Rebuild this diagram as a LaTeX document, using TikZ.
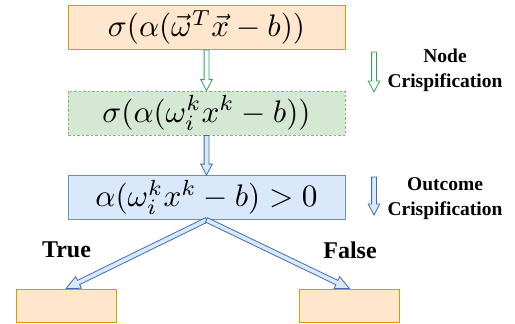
\documentclass[tikz,border=0pt]{standalone}
\usepackage{graphicx}
\usepackage[no-math]{fontspec}
\setmainfont{Liberation Serif}[BoldFont={Liberation Serif Bold}]
\usetikzlibrary{calc}
\definecolor{orfill}{HTML}{FFE6CC}
\definecolor{ordraw}{HTML}{D79B00}
\definecolor{grfill}{HTML}{D5E8D4}
\definecolor{grdraw}{HTML}{82B366}
\definecolor{blfill}{HTML}{DAE8FC}
\definecolor{bldraw}{HTML}{6C8EBF}
\definecolor{arrgreen}{HTML}{2FA35B}
\definecolor{arrblue}{HTML}{3C6EB4}
\newcommand\shw{2.4pt}
\newcommand\hdw{5.8pt}
\newcommand\hdl{11pt}
\newcommand\mathbigx[1]{\scalebox{3.12}{$#1$}}
\begin{document}
\begin{tikzpicture}[x=1pt,y=-1pt,
  box/.style={minimum width=277pt, minimum height=44pt, inner sep=0pt, line width=0.8pt},
  leaf/.style={minimum width=100pt, minimum height=33pt, inner sep=0pt, line width=0.8pt,
    fill=orfill, draw=ordraw},
  lbl/.style={font=\bfseries\fontsize{19.5}{25}\selectfont, align=center, inner sep=0pt},
  biglbl/.style={font=\bfseries\fontsize{24}{28}\selectfont, inner sep=0pt},
  bigtip/.code={\def\hdl{14pt}\def\hdw{6.5pt}},
  flexarrow/.style={line width=0.8pt, line join=miter,
    to path={
      ($(\tikztostart)!\shw!90:(\tikztotarget)$)
      -- ($(\tikztotarget)!\hdl!(\tikztostart)!\shw!-90:(\tikztostart)$)
      -- ($(\tikztotarget)!\hdl!(\tikztostart)!\hdw!-90:(\tikztostart)$)
      -- (\tikztotarget)
      -- ($(\tikztotarget)!\hdl!(\tikztostart)!\hdw!90:(\tikztostart)$)
      -- ($(\tikztotarget)!\hdl!(\tikztostart)!\shw!90:(\tikztostart)$)
      -- ($(\tikztostart)!\shw!-90:(\tikztotarget)$)
      -- cycle}},
  greenarrow/.style={flexarrow, draw=arrgreen, fill=white},
  bluearrow/.style={flexarrow, draw=arrblue, fill=blfill}
]
\useasboundingbox (0,0) rectangle (515,324);

\node[box, fill=orfill, draw=ordraw] (top) at (206.5,27.5)
  {\mathbigx{\sigma(\alpha(\vec{\omega}^T\vec{x}-b))}};
\node[box, fill=grfill, draw=grdraw, dashed, dash pattern=on 2.5pt off 2pt] (mid) at (206.5,113)
  {\mathbigx{\sigma(\alpha(\omega_i^k x^k-b))}};
\node[box, fill=blfill, draw=bldraw] (cmp) at (206.5,197.5)
  {\mathbigx{\alpha(\omega_i^k x^k-b)>0}};
\node[leaf] (tbox) at (66,305.5) {};
\node[leaf] (fbox) at (349.5,305.5) {};

\draw[greenarrow] (top.south) to (mid.north);
\draw[bluearrow] (mid.south) to (cmp.north);
\draw[bluearrow, bigtip] (cmp.south) to (tbox.north);
\draw[bluearrow, bigtip] (cmp.south) to (fbox.north);

\node[biglbl] (ltrue) at (66.5,250) {True};
\node[biglbl] (lfalse) at (350,250) {False};

\coordinate (g1) at (374,52);
\coordinate (g2) at (374,92);
\draw[greenarrow] (g1) to (g2);
\node[lbl] (nodecr) at (445,70.5) {Node\\Crispification};

\coordinate (b1) at (374,177);
\coordinate (b2) at (374,215);
\draw[bluearrow] (b1) to (b2);
\node[lbl] (outcr) at (445,199) {Outcome\\Crispification};
\end{tikzpicture}
\end{document}
